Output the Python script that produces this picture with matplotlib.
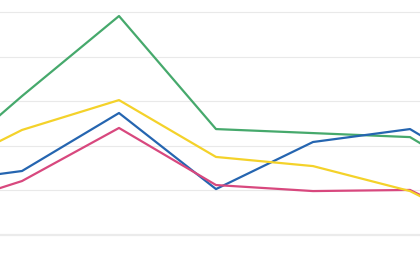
import matplotlib
matplotlib.use("Agg")
import matplotlib.pyplot as plt

# Werte, Index 0..6
punkte = [0, 1, 2, 3, 4, 5, 6]
gruen = [24.7, 62.3, 98.2, 47.5, 45.7, 43.9, 17.9]
blau = [22.9, 28.7, 54.7, 20.6, 41.7, 47.5, 21.5]
gelb = [25.3, 47.1, 60.5, 35.0, 30.9, 19.7, -2.2]
pink = [10.3, 24.2, 48.0, 22.4, 19.7, 20.2, -1.3]
gitter = [20, 40, 60, 80, 100]

fig = plt.figure(figsize=(4.2, 2.8), dpi=100)
ax = fig.add_axes([0, 0, 1, 1])

ax.plot(punkte, gruen, color="#46a96c", lw=1.6, zorder=3)
ax.plot(punkte, blau, color="#2565b0", lw=1.6, zorder=4)
ax.plot(punkte, pink, color="#d8487e", lw=1.6, zorder=5)
ax.plot(punkte, gelb, color="#f4d22a", lw=1.6, zorder=6)

# Gitterlinien
for g in gitter:
    ax.axhline(g, color="#e9e9e9", lw=0.8, zorder=1)
ax.axhline(0, color="#ebebeb", lw=1.6, zorder=1)

ax.set_xlim(75 / 97, 495 / 97)
ax.set_ylim(-45 / 2.23, 235 / 2.23)
ax.axis("off")

fig.savefig("out.png", dpi=100, facecolor="white")
